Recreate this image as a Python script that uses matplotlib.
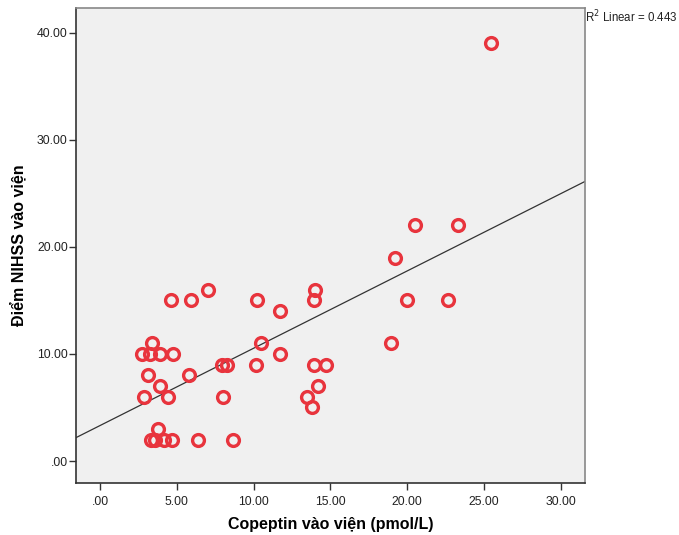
import numpy as np
import matplotlib
matplotlib.use("Agg")
import matplotlib.pyplot as plt

plt.rcParams['font.family'] = ['Liberation Sans', 'DejaVu Sans']

# Copeptin on admission (pmol/L) vs NIHSS score on admission
copeptin = [4.65, 5.93, 7.03, 10.22, 11.72, 14.0, 13.95, 3.36, 2.71, 3.26,
            3.91, 4.77, 10.46, 11.72, 3.15, 5.8, 7.92, 8.25, 10.18, 13.93,
            14.71, 3.91, 2.89, 4.4, 7.98, 13.5, 14.2, 13.83, 3.75, 3.3,
            3.55, 4.19, 4.67, 6.36, 8.68, 19.96, 22.63, 18.92, 19.2, 20.5,
            23.3, 25.45]
nihss = [15, 15, 16, 15, 14, 16, 15, 11, 10, 10,
         10, 10, 11, 10, 8, 8, 9, 9, 9, 9,
         9, 7, 6, 6, 6, 6, 7, 5, 3, 2,
         2, 2, 2, 2, 2, 15, 15, 11, 19, 22,
         22, 39]

xticks = [0, 5, 10, 15, 20, 25, 30]
yticks = [0, 10, 20, 30, 40]

fig = plt.figure(figsize=(6.79, 5.35), dpi=100)
ax = fig.add_axes([0.112, 0.097, 0.750, 0.888])
ax.set_facecolor('#f0f0f0')

ax.set_xlim(-1.56, 31.6)
ax.set_ylim(-2.06, 42.3)

# linear fit line
m, b = np.polyfit(copeptin, nihss, 1)
xs = np.array(ax.get_xlim())
ax.plot(xs, m * xs + b, color='#333333', linewidth=0.9, zorder=2)

ax.plot(copeptin, nihss, linestyle='none', marker='o', markersize=8.5,
        markerfacecolor='none', markeredgecolor='#e8343d',
        markeredgewidth=2.4, zorder=3)

ax.set_xticks(xticks)
ax.set_yticks(yticks)
ax.set_xticklabels(['.00' if t == 0 else f'{t:.2f}' for t in xticks])
ax.set_yticklabels(['.00' if t == 0 else f'{t:.2f}' for t in yticks])
ax.tick_params(direction='out', length=5, width=1, color='#333333',
               labelsize=8.8, labelcolor='#222222')
ax.tick_params(axis='y', pad=1)
ax.tick_params(axis='x', pad=4)

for side in ['left', 'bottom']:
    ax.spines[side].set_color('#333333')
    ax.spines[side].set_linewidth(1.2)
for side in ['top', 'right']:
    ax.spines[side].set_color('#888888')
    ax.spines[side].set_linewidth(1.2)

ax.set_xlabel('Copeptin vào viện (pmol/L)', fontsize=11.5, fontweight='bold')
ax.set_ylabel('Điểm NIHSS vào viện', fontsize=11.5, fontweight='bold')
ax.xaxis.set_label_coords(0.5, -0.072)
ax.yaxis.set_label_coords(-0.097, 0.5)

fig.text(0.862, 0.968, 'R$^2$ Linear = 0.443', fontsize=8.3, ha='left',
         va='center', color='#222222')

fig.savefig('out.png', dpi=100)
